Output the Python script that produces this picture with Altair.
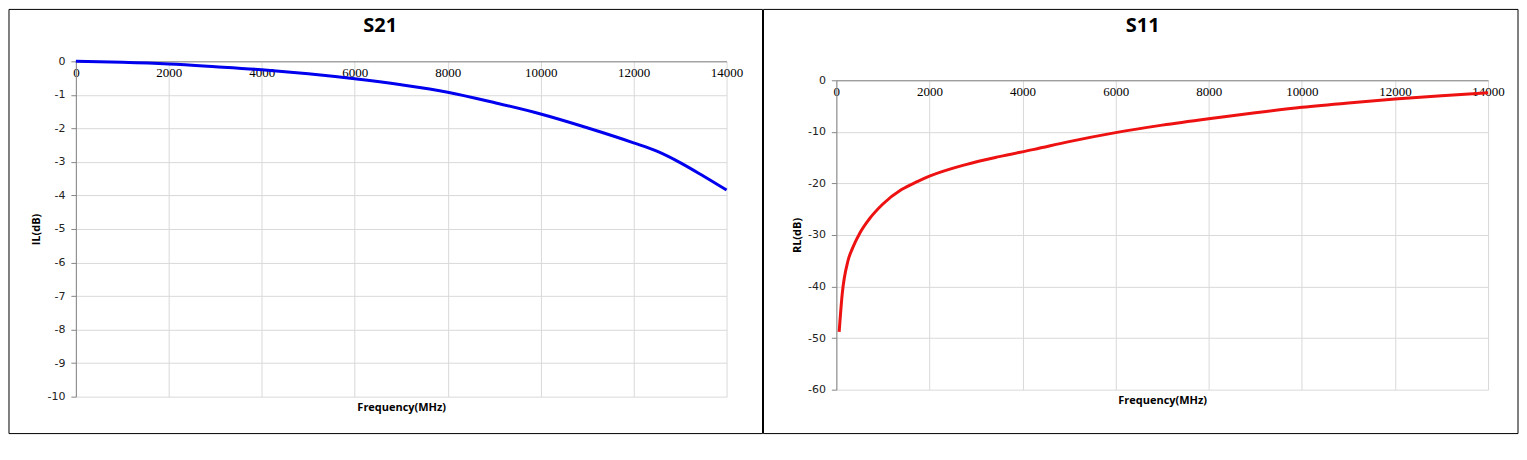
import altair as alt
import pandas as pd

# ---- data ----
s21_freq = [0, 1000, 2000, 3000, 4000, 5000, 6000, 7000, 8000, 9000, 10000,
            11000, 12000, 12500, 13000, 13500, 14000]
s21_il = [0.0, -0.03, -0.08, -0.16, -0.25, -0.37, -0.52, -0.70, -0.92, -1.23, -1.57,
          -1.98, -2.43, -2.68, -3.02, -3.42, -3.84]

s11_freq = [60, 125, 250, 350, 500, 700, 1000, 1400, 1750, 2000, 2800, 3500, 4250,
            5000, 6000, 7000, 8000, 9000, 10000, 11000, 12000, 13000, 14000]
s11_rl = [-48.8, -41.5, -35.0, -32.5, -29.7, -27.0, -24.0, -21.2, -19.6, -18.6, -16.3, -14.8, -13.4,
          -11.9, -10.15, -8.7, -7.45, -6.3, -5.25, -4.4, -3.65, -3.0, -2.4]

freq_ticks = [0, 2000, 4000, 6000, 8000, 10000, 12000, 14000]
il_ticks = [0, -1, -2, -3, -4, -5, -6, -7, -8, -9, -10]
rl_ticks = [0, -10, -20, -30, -40, -50, -60]

GRID = "#d9d9d9"
AXIS = "#868686"
GROUP_H = 336


def panel(freq, vals, color, title, ydomain, yticks, ytitle, W, top, plot_h, frame, dx):
    df = pd.DataFrame({"freq": freq, "val": vals})
    x = alt.X(
        "freq:Q",
        scale=alt.Scale(domain=[0, 14000], nice=False, zero=False),
        axis=alt.Axis(
            orient="top", offset=-top, values=freq_ticks, format="d",
            title="Frequency(MHz)", titleY=plot_h + 11, titleBaseline="middle",
            titleFont="Open Sans", titleFontSize=11, titleFontWeight="bold", titleColor="black",
            labelBaseline="top", labelPadding=-5, labelFlush=False,
            labelFont="Liberation Serif", labelFontSize=13, labelColor="black",
            ticks=False, tickSize=0, domainColor=AXIS, gridColor=GRID, grid=True,
        ),
    )
    y = alt.Y(
        "val:Q",
        scale=alt.Scale(domain=ydomain, nice=False, zero=False, range=[top + plot_h, top]),
        axis=alt.Axis(
            values=yticks, title=ytitle, titlePadding=5,
            labelExpr="'' + datum.value",
            titleFont="Open Sans", titleFontSize=11, titleFontWeight="bold", titleColor="black",
            labelFont="DejaVu Sans", labelFontSize=11, labelColor="#222222", labelPadding=6,
            tickSize=5, tickColor=AXIS, domainColor=AXIS, gridColor=GRID, grid=True,
        ),
    )
    line = alt.Chart(df).mark_line(color=color, strokeWidth=3, interpolate="monotone").encode(x=x, y=y)
    border = alt.Chart(pd.DataFrame({"k": [0]})).mark_rect(
        fillOpacity=0, stroke="black", strokeWidth=1
    ).encode(
        x=alt.value(frame[0]), x2=alt.value(frame[1]),
        y=alt.value(frame[2]), y2=alt.value(frame[3]),
    )
    return alt.layer(line, border).properties(
        width=W, height=GROUP_H,
        title=alt.TitleParams(
            text=title, font="Open Sans", fontSize=20, fontWeight="bold", color="black",
            anchor="middle", baseline="alphabetic", offset=-25.5, dx=dx, dy=18,
        ),
    )


left = panel(s21_freq, s21_il, "#0000ee", "S21", [-10, 0], il_ticks, "IL(dB)",
             652, 0, 336, (-67, 688, -52, 373), -21)
right = panel(s11_freq, s11_rl, "#ee1111", "S11", [-60, 0], rl_ticks, "RL(dB)",
              653, 19, 310, (-73, 683, -52, 373), -19.5)

chart = alt.hconcat(left, right, spacing=-1).properties(padding=0).configure_view(
    stroke="transparent"
)

chart.save("out.html", embed_options={"renderer": "svg", "actions": False})
